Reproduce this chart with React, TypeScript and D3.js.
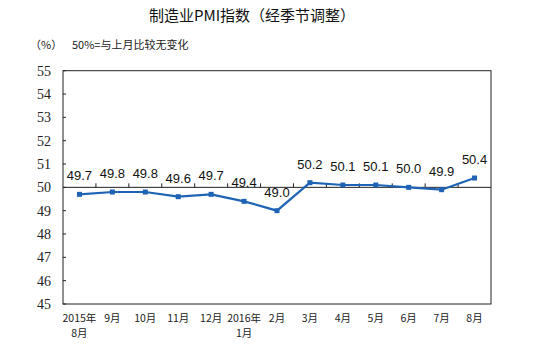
import React from "react";
import * as d3 from "d3";

const categories = ["2015年\n8月", "9月", "10月", "11月", "12月", "2016年\n1月", "2月", "3月", "4月", "5月", "6月", "7月", "8月"];
const values = [49.7, 49.8, 49.8, 49.6, 49.7, 49.4, 49.0, 50.2, 50.1, 50.1, 50.0, 49.9, 50.4];
const yTicks = [45, 46, 47, 48, 49, 50, 51, 52, 53, 54, 55];

const W = 538, H = 358;
const L = 63, R = 491, T = 70.7, B = 304;
const BLUE = "#1f63b5";

export default function App() {
  const x = d3.scaleBand<number>().domain(d3.range(categories.length)).range([L, R]);
  const y = d3.scaleLinear().domain([45, 55]).range([B, T]);
  const cx = (i: number) => (x(i) as number) + x.bandwidth() / 2;
  const line = d3.line<number>().x((_, i) => cx(i)).y((d) => y(d));
  const y50 = y(50);

  return (
    <svg width={W} height={H} style={{ position: "absolute", left: 0, top: 0, background: "#fff" }}>
      <rect x={0} y={0} width={W} height={H} fill="#fff" />
      <text x={252} y={21} textAnchor="middle" fontFamily="'Noto Sans CJK SC'" fontSize={15} fill="#111">
        制造业PMI指数（经季节调整）
      </text>
      <text x={30} y={49} fontFamily="'Noto Sans CJK SC'" fontSize={11} fill="#222">（%）</text>
      <text x={72} y={49} fontFamily="'Noto Sans CJK SC'" fontSize={11} fill="#222">50%=与上月比较无变化</text>

      <rect x={L} y={T} width={R - L} height={B - T} fill="none" stroke="#222" strokeWidth={1} />
      {yTicks.map((t) => (
        <g key={t}>
          <line x1={L} x2={L + 3} y1={y(t)} y2={y(t)} stroke="#222" />
          <text x={51} y={y(t) + 5} textAnchor="end" fontFamily="'Liberation Serif'" fontSize={14} fill="#222">
            {t}
          </text>
        </g>
      ))}
      <line x1={L} x2={R} y1={y50} y2={y50} stroke="#222" strokeWidth={1} />
      {d3.range(1, categories.length).map((i) => (
        <line key={i} x1={x(i) as number} x2={x(i) as number} y1={y50} y2={y50 - 4} stroke="#222" />
      ))}

      <path d={line(values) || ""} fill="none" stroke={BLUE} strokeWidth={2.2} />
      {values.map((v, i) => (
        <rect key={i} x={cx(i) - 2.5} y={y(v) - 2.5} width={5} height={5} fill={BLUE} />
      ))}
      {values.map((v, i) => (
        <text key={i} x={cx(i)} y={y(v) - 14} textAnchor="middle" fontFamily="'Liberation Sans'" fontSize={13} fill="#111">
          {v.toFixed(1)}
        </text>
      ))}

      {categories.map((c, i) => (
        <text key={i} x={cx(i)} textAnchor="middle" fontFamily="'Noto Sans CJK SC'" fontSize={10.5} fill="#222">
          {c.split("\n").map((s, j) => (
            <tspan key={j} x={cx(i)} y={322 + j * 15}>{s}</tspan>
          ))}
        </text>
      ))}
    </svg>
  );
}
